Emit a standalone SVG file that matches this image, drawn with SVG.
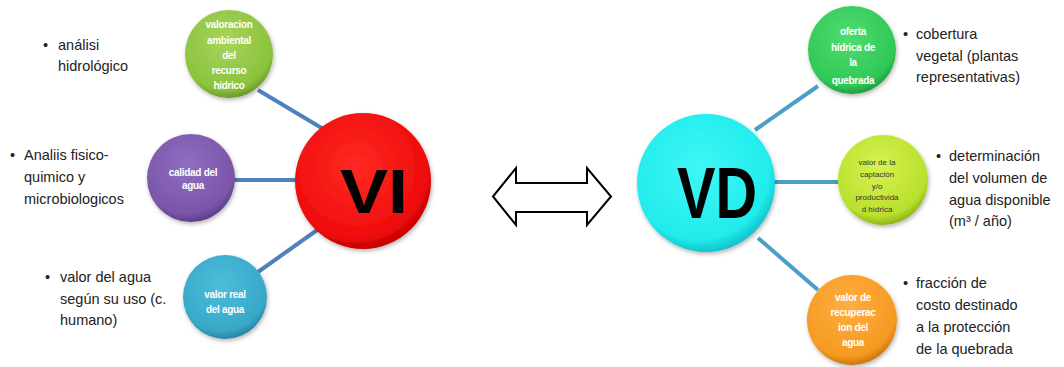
<svg xmlns="http://www.w3.org/2000/svg" width="1064" height="367" viewBox="0 0 1064 367">
<defs>
<radialGradient id="gRed" cx="0.45" cy="0.4" r="0.6"><stop offset="0" stop-color="#ff2a22"/><stop offset="0.85" stop-color="#f00d0d"/><stop offset="1" stop-color="#c80000"/></radialGradient>
<radialGradient id="gCyan" cx="0.45" cy="0.4" r="0.6"><stop offset="0" stop-color="#3ff6f6"/><stop offset="0.85" stop-color="#22ecec"/><stop offset="1" stop-color="#12c4cc"/></radialGradient>
<radialGradient id="gGreenL" cx="0.45" cy="0.35" r="0.65"><stop offset="0" stop-color="#a6d45a"/><stop offset="0.85" stop-color="#8cc23e"/><stop offset="1" stop-color="#6d9a2a"/></radialGradient>
<radialGradient id="gPurple" cx="0.45" cy="0.35" r="0.65"><stop offset="0" stop-color="#8f6ec0"/><stop offset="0.85" stop-color="#7a55aa"/><stop offset="1" stop-color="#5c3f86"/></radialGradient>
<radialGradient id="gBlue" cx="0.45" cy="0.35" r="0.65"><stop offset="0" stop-color="#4dbddb"/><stop offset="0.85" stop-color="#38a8c8"/><stop offset="1" stop-color="#2a86a2"/></radialGradient>
<radialGradient id="gGreenR" cx="0.45" cy="0.35" r="0.65"><stop offset="0" stop-color="#4fdc70"/><stop offset="0.85" stop-color="#30c856"/><stop offset="1" stop-color="#21a040"/></radialGradient>
<radialGradient id="gLime" cx="0.45" cy="0.35" r="0.65"><stop offset="0" stop-color="#d8f250"/><stop offset="0.85" stop-color="#b8e02c"/><stop offset="1" stop-color="#8fb41c"/></radialGradient>
<radialGradient id="gOrange" cx="0.45" cy="0.35" r="0.65"><stop offset="0" stop-color="#ffae40"/><stop offset="0.85" stop-color="#f59a22"/><stop offset="1" stop-color="#cc7810"/></radialGradient>
<filter id="sh" x="-20%" y="-20%" width="140%" height="140%"><feDropShadow dx="1" dy="2" stdDeviation="2" flood-color="#000" flood-opacity="0.3"/></filter>
</defs>
<style>
.lnL{stroke:#4f81bd;stroke-width:4;fill:none}
.lnR{stroke:#4a9fc6;stroke-width:4;fill:none}
.ball{filter:url(#sh)}
.st{font-family:"Liberation Sans",Arial,sans-serif;font-weight:bold;font-size:10px;fill:#fff;text-anchor:middle;letter-spacing:-0.3px}
.sd{font-family:"Liberation Sans",Arial,sans-serif;font-size:8px;fill:#333;text-anchor:middle}
.big{font-family:"Liberation Sans",Arial,sans-serif;font-weight:bold;fill:#000}
.bt{font-family:"Liberation Sans",Arial,sans-serif;font-size:14.5px;fill:#222}
</style>
<g id="connectors">
<line class="lnL" x1="258" y1="90" x2="325" y2="130"/>
<line class="lnL" x1="234" y1="180" x2="300" y2="180"/>
<line class="lnL" x1="258" y1="272" x2="320" y2="228"/>
<line class="lnR" x1="818" y1="86" x2="755" y2="130"/>
<line class="lnR" x1="840" y1="182" x2="772" y2="182"/>
<line class="lnR" x1="818" y1="290" x2="758" y2="238"/>
<path d="M493,196.5 L516,168 L516,183 L587,183 L587,168 L611,196.5 L587,225 L587,212 L516,212 L516,225 Z" fill="#fff" stroke="#000" stroke-width="2" stroke-linejoin="miter"/>
</g>
<g id="node-vi">
<circle class="ball" cx="363" cy="181" r="68" fill="url(#gRed)"/>
<text class="big" x="340" y="213" font-size="63" textLength="68" lengthAdjust="spacingAndGlyphs">VI</text>
</g>
<g id="node-vd">
<circle class="ball" cx="706" cy="183" r="69" fill="url(#gCyan)"/>
<text class="big" x="677" y="218" font-size="73" textLength="80" lengthAdjust="spacingAndGlyphs">VD</text>
</g>
<g id="node-valoracion">
<circle class="ball" cx="229" cy="54" r="44" fill="url(#gGreenL)"/>
<text class="st"><tspan x="229" y="28">valoracion</tspan><tspan x="229" y="44">ambiental</tspan><tspan x="229" y="59">del</tspan><tspan x="229" y="74">recurso</tspan><tspan x="229" y="89">hídrico</tspan></text>
</g>
<g id="node-calidad">
<circle class="ball" cx="191" cy="178" r="44" fill="url(#gPurple)"/>
<text class="st"><tspan x="193" y="176">calidad del</tspan><tspan x="193" y="189">agua</tspan></text>
</g>
<g id="node-valorreal">
<circle class="ball" cx="225" cy="297" r="42" fill="url(#gBlue)"/>
<text class="st"><tspan x="225" y="298">valor real</tspan><tspan x="225" y="313">del agua</tspan></text>
</g>
<g id="node-oferta">
<circle class="ball" cx="852" cy="50" r="44" fill="url(#gGreenR)"/>
<text class="st"><tspan x="853" y="35">oferta</tspan><tspan x="853" y="51">hídrica de</tspan><tspan x="853" y="66">la</tspan><tspan x="853" y="84">quebrada</tspan></text>
</g>
<g id="node-captacion">
<circle class="ball" cx="883" cy="180" r="45" fill="url(#gLime)"/>
<text class="sd"><tspan x="877" y="165">valor de la</tspan><tspan x="877" y="177">captación</tspan><tspan x="877" y="189">y/o</tspan><tspan x="877" y="200">productivida</tspan><tspan x="877" y="212">d hídrica</tspan></text>
</g>
<g id="node-recuperacion">
<circle class="ball" cx="852" cy="320" r="45" fill="url(#gOrange)"/>
<text class="st"><tspan x="853" y="301">valor de</tspan><tspan x="853" y="316">recuperac</tspan><tspan x="853" y="331">ion del</tspan><tspan x="853" y="346">agua</tspan></text>
</g>
<g id="text-left">
<text class="bt"><tspan x="43" y="50">•</tspan><tspan x="58" y="50">análisi</tspan><tspan x="58" y="71">hidrológico</tspan></text>
<text class="bt"><tspan x="10" y="160">•</tspan><tspan x="24" y="160">Analiis fisico-</tspan><tspan x="24" y="182">quimico y</tspan><tspan x="24" y="204">microbiologicos</tspan></text>
<text class="bt"><tspan x="45" y="282">•</tspan><tspan x="60" y="282">valor del agua</tspan><tspan x="60" y="304">según su uso (c.</tspan><tspan x="60" y="325">humano)</tspan></text>
</g>
<g id="text-right">
<text class="bt"><tspan x="903" y="39">•</tspan><tspan x="916" y="39">cobertura</tspan><tspan x="916" y="61">vegetal (plantas</tspan><tspan x="916" y="82">representativas)</tspan></text>
<text class="bt"><tspan x="936" y="161">•</tspan><tspan x="949" y="161">determinación</tspan><tspan x="949" y="183">del volumen de</tspan><tspan x="949" y="205">agua disponible</tspan><tspan x="949" y="226">(m³ / año)</tspan></text>
<text class="bt"><tspan x="903" y="288">•</tspan><tspan x="916" y="288">fracción de</tspan><tspan x="916" y="310">costo destinado</tspan><tspan x="916" y="332">a la protección</tspan><tspan x="916" y="354">de la quebrada</tspan></text>
</g>
</svg>
